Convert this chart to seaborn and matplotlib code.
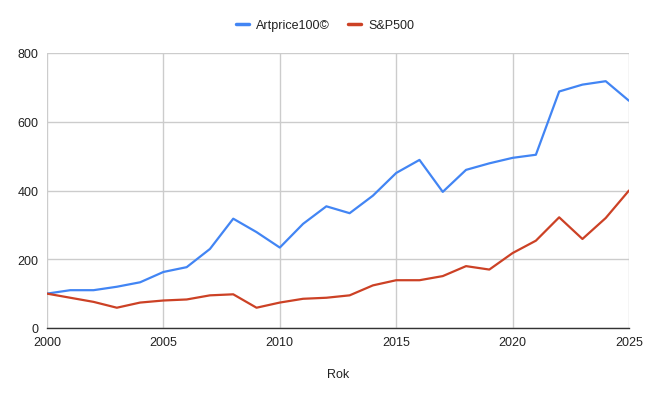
import numpy as np
import matplotlib
matplotlib.use("Agg")
import matplotlib.pyplot as plt
import seaborn as sns
import pandas as pd

years = list(range(2000, 2026))
artprice = [100, 110, 110, 120, 133, 163, 177, 230, 318, 279, 234, 303, 354,
            334, 385, 451, 489, 396, 460, 479, 495, 504, 688, 708, 718, 661]
sp500 = [100, 88, 76, 59, 74, 80, 83, 95, 98, 59, 74, 85, 88,
         95, 124, 139, 139, 151, 180, 170, 218, 254, 322, 259, 320, 400]
series_names = ["Artprice100©", "S&P500"]
colors = ["#4285F4", "#CC4125"]

df = pd.DataFrame({
    "Rok": years * 2,
    "value": artprice + sp500,
    "series": [series_names[0]] * len(years) + [series_names[1]] * len(years),
})

sns.set_style("white")
plt.rcParams['font.family'] = ['Liberation Sans', 'DejaVu Sans']

fig = plt.figure(figsize=(6.5, 4.02), dpi=100)
ax = fig.add_axes([47 / 650, 1 - 329 / 402, 582 / 650, 275 / 402])

sns.lineplot(data=df, x="Rok", y="value", hue="series", palette=colors,
             linewidth=1.6, ax=ax, legend=False)

ax.set_xlim(2000, 2025)
ax.set_ylim(0, 800)
ax.set_xticks(range(2000, 2026, 5))
ax.set_yticks(range(0, 801, 200))
ax.grid(True, color="#cccccc", linewidth=1)
ax.set_axisbelow(True)
for s in ["top", "right", "left"]:
    ax.spines[s].set_visible(False)
ax.spines["bottom"].set_color("#333333")
ax.spines["bottom"].set_linewidth(1)
ax.tick_params(length=0, labelsize=9, colors="#222222", pad=6)
ax.set_ylabel("")
ax.set_xlabel("Rok", fontsize=9, color="#222222", labelpad=14)

handles = [plt.Line2D([], [], color=c, linewidth=2.5) for c in colors]
fig.legend(handles, series_names, loc="center", bbox_to_anchor=(0.5, 1 - 26 / 402),
           ncol=2, frameon=False, fontsize=9, handlelength=1.05, columnspacing=1.45,
           handletextpad=0.55, labelcolor="#222222")

fig.savefig("out.png", dpi=100)
